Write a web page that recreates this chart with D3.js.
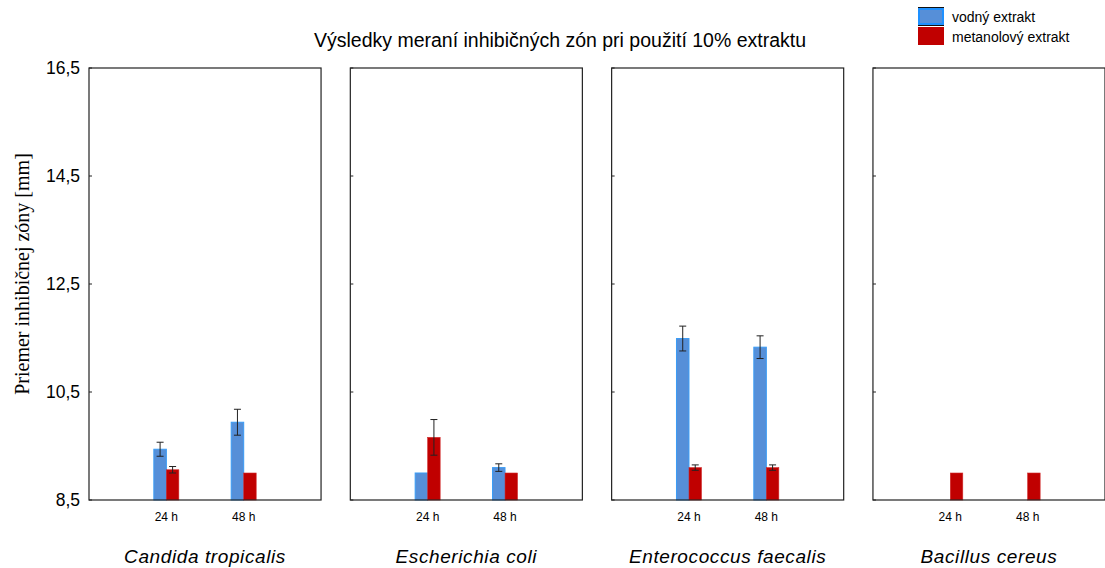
<!DOCTYPE html>
<html>
<head>
<meta charset="utf-8">
<script src="https://cdn.jsdelivr.net/npm/d3@7"></script>
<style>
  body { margin: 0; background: #fff; }
  svg { display: block; font-family: Arial, "Liberation Sans", sans-serif; }
</style>
</head>
<body>
<svg id="chart" width="1105" height="568"></svg>
<script>
const species = ['Candida tropicalis', 'Escherichia coli', 'Enterococcus faecalis', 'Bacillus cereus'];
const times = ['24 h', '48 h'];
const yTicks = [8.5, 10.5, 12.5, 14.5, 16.5];

// vodný extrakt, per species [24 h, 48 h]
const vodny = [[9.44, 9.94], [9.0, 9.1], [11.49, 11.33], [null, null]];
const vodnyErr = [[0.13, 0.24], [0, 0.07], [0.23, 0.21], [0, 0]];
// metanolový extrakt
const metanol = [[9.06, 9.0], [9.66, 9.0], [9.1, 9.1], [9.0, 9.0]];
const metanolErr = [[0.06, 0], [0.33, 0], [0.05, 0.05], [0, 0]];

const svg = d3.select('#chart');
const plotTop = 68, plotBottom = 500, barW = 12.5;

const panel = d3.scaleBand().domain(species).range([89, 1105]).paddingInner(0.112);
const y = d3.scaleLinear().domain([8.5, 16.5]).range([plotBottom, plotTop]);
const x = d3.scalePoint().domain(times).range([0, panel.bandwidth()]).padding(1);

const fmt = d => d3.format('.1f')(d).replace('.', ',');

// title
svg.append('text')
  .attr('x', 560).attr('y', 47)
  .attr('text-anchor', 'middle')
  .style('font-size', '19.5px')
  .text('Výsledky meraní inhibičných zón pri použití 10% extraktu');

// y label
svg.append('text')
  .attr('transform', 'translate(29,274) rotate(-90)')
  .attr('text-anchor', 'middle')
  .style('font-family', '"Liberation Serif", "Times New Roman", serif')
  .style('font-size', '20px')
  .text('Priemer inhibičnej zóny [mm]');

// y tick labels on the first panel
svg.selectAll('.ylab')
  .data(yTicks)
  .enter()
  .append('text')
  .attr('class', 'ylab')
  .attr('x', 80)
  .attr('y', d => y(d) + 6)
  .attr('text-anchor', 'end')
  .style('font-size', '17.5px')
  .text(fmt);

species.forEach((sp, i) => {
  const g = svg.append('g').attr('transform', `translate(${panel(sp)},0)`);
  const w = panel.bandwidth();

  // inward ticks on the left axis
  g.selectAll('.ytick')
    .data(yTicks)
    .enter()
    .append('line')
    .attr('x1', 0).attr('x2', 3)
    .attr('y1', d => y(d)).attr('y2', d => y(d))
    .attr('stroke', '#222');

  const rows = times.map((t, j) => ({
    t: t,
    v: vodny[i][j], ve: vodnyErr[i][j],
    m: metanol[i][j], me: metanolErr[i][j]
  }));

  // blue bars
  g.selectAll('.vb')
    .data(rows.filter(d => d.v != null))
    .enter()
    .append('rect')
    .attr('x', d => x(d.t) - barW)
    .attr('y', d => y(d.v))
    .attr('width', barW)
    .attr('height', d => plotBottom - y(d.v))
    .attr('fill', '#568fd8')
    .attr('stroke', '#3a9cf5')
    .attr('stroke-width', 1);

  // red bars
  g.selectAll('.mb')
    .data(rows.filter(d => d.m != null))
    .enter()
    .append('rect')
    .attr('x', d => x(d.t))
    .attr('y', d => y(d.m))
    .attr('width', barW)
    .attr('height', d => plotBottom - y(d.m))
    .attr('fill', '#c00000')
    .attr('stroke', '#d02a2a')
    .attr('stroke-width', 0.6);

  // error bars
  const errs = [];
  rows.forEach(d => {
    if (d.v != null && d.ve > 0) errs.push({ cx: x(d.t) - barW / 2, v: d.v, e: d.ve });
    if (d.m != null && d.me > 0) errs.push({ cx: x(d.t) + barW / 2, v: d.m, e: d.me });
  });
  const eg = g.selectAll('.err').data(errs).enter().append('g').attr('stroke', '#222').attr('stroke-width', 1);
  eg.append('line').attr('x1', d => d.cx).attr('x2', d => d.cx)
    .attr('y1', d => y(d.v + d.e)).attr('y2', d => y(d.v - d.e));
  eg.append('line').attr('x1', d => d.cx - 3.5).attr('x2', d => d.cx + 3.5)
    .attr('y1', d => y(d.v + d.e)).attr('y2', d => y(d.v + d.e));
  eg.append('line').attr('x1', d => d.cx - 3.5).attr('x2', d => d.cx + 3.5)
    .attr('y1', d => y(d.v - d.e)).attr('y2', d => y(d.v - d.e));

  // frame
  g.append('rect')
    .attr('x', 0).attr('y', plotTop)
    .attr('width', w).attr('height', plotBottom - plotTop)
    .attr('fill', 'none')
    .attr('stroke', '#222')
    .attr('stroke-width', 1.2);

  // x tick labels
  g.selectAll('.xlab')
    .data(times)
    .enter()
    .append('text')
    .attr('x', d => x(d))
    .attr('y', 521)
    .attr('text-anchor', 'middle')
    .style('font-size', '12px')
    .text(d => d);

  // species label
  g.append('text')
    .attr('x', w / 2)
    .attr('y', 563)
    .attr('text-anchor', 'middle')
    .style('font-size', '19px')
    .style('letter-spacing', '0.6px')
    .style('font-style', 'italic')
    .text(sp);
});

// legend
const legend = [
  { label: 'vodný extrakt', fill: '#568fd8', stroke: '#1e90ff' },
  { label: 'metanolový extrakt', fill: '#c00000', stroke: '#c00000' }
];
const lg = svg.selectAll('.leg').data(legend).enter().append('g')
  .attr('transform', (d, i) => `translate(918,${i === 0 ? 8 : 27})`);
lg.append('rect')
  .attr('x', 1).attr('y', 1)
  .attr('width', 24).attr('height', (d, i) => i === 0 ? 15 : 16)
  .attr('fill', d => d.fill)
  .attr('stroke', d => d.stroke)
  .attr('stroke-width', 2);
svg.append('line').attr('x1', 918).attr('x2', 944).attr('y1', 7.5).attr('y2', 7.5).attr('stroke', '#111');
svg.append('line').attr('x1', 918).attr('x2', 944).attr('y1', 25.5).attr('y2', 25.5).attr('stroke', '#111');
lg.append('text')
  .attr('x', 34)
  .attr('y', (d, i) => i === 0 ? 14 : 15)
  .style('font-size', '14px')
  .text(d => d.label);
</script>
</body>
</html>
